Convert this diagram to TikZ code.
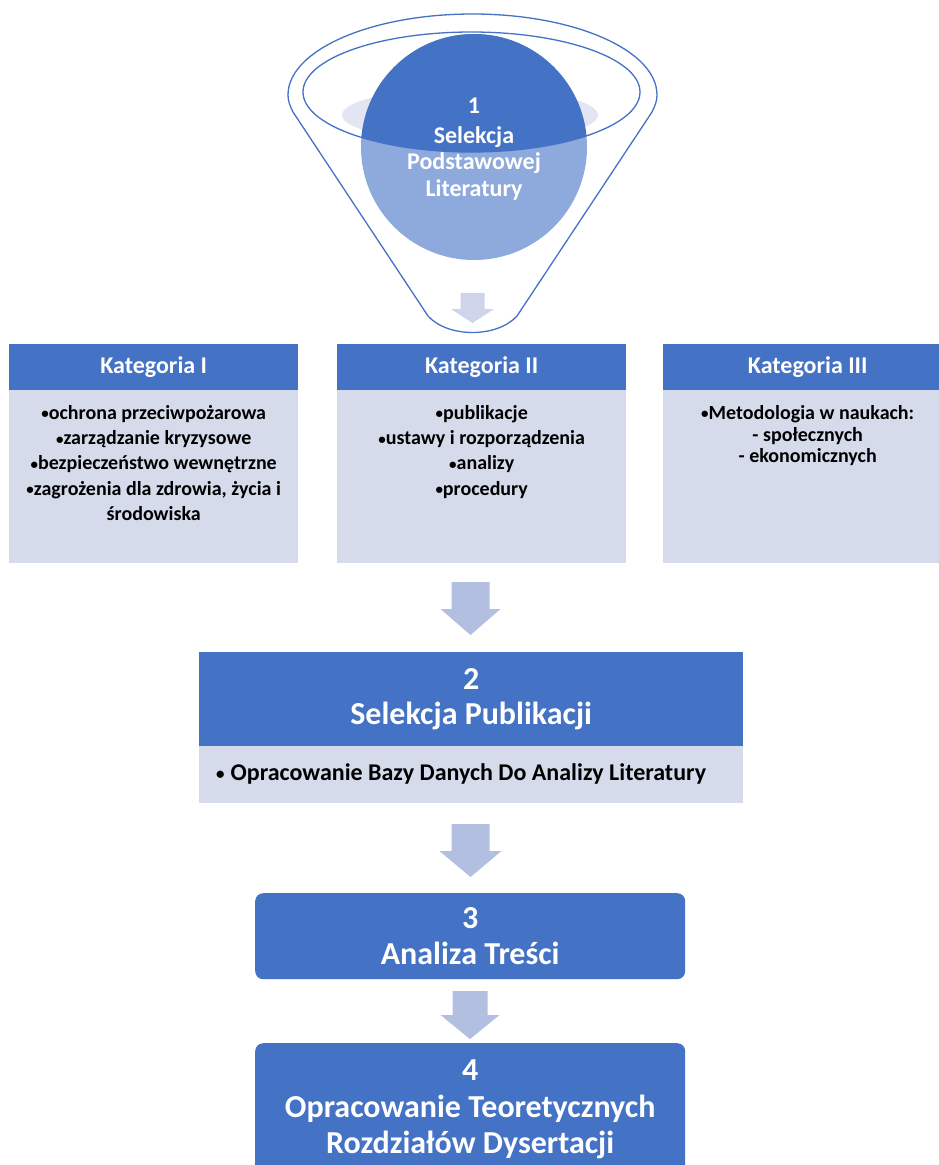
\documentclass[tikz,border=0pt]{standalone}
\usepackage{fontspec}
\setmainfont{Carlito}
\usetikzlibrary{calc}

\definecolor{accent}{HTML}{4472C4}
\definecolor{panel}{HTML}{D6DBEC}
\definecolor{arrowfill}{HTML}{B2BFE0}
\definecolor{funnelarrow}{HTML}{CED5EA}
\definecolor{haze}{HTML}{E3E6F2}
\definecolor{glass}{HTML}{8EA9DB}

\newcommand{\fsz}[2]{\fontsize{#1}{#2}\selectfont}
% small list bullet
\newcommand{\bul}{\raisebox{0.5pt}{\fsz{15}{15}•}}
% block arrow: colour, centre x, top, shoulder, tip, half head width, half shaft width
\newcommand{\blockarrow}[7]{%
  \fill[#1] (#2-#7,#3) -- (#2+#7,#3) -- (#2+#7,#4) -- (#2+#6,#4) -- (#2,#5)
            -- (#2-#6,#4) -- (#2-#7,#4) -- cycle;}

\begin{document}
\begin{tikzpicture}[x=1pt,y=-1pt,
  cathead/.style={fill=accent,text=white,font=\bfseries\fsz{24}{28},
    minimum width=289pt,minimum height=46pt,inner sep=0pt,anchor=north west},
  catbody/.style={fill=panel,minimum width=289pt,minimum height=173pt,
    inner sep=0pt,anchor=north west},
  cattext/.style={font=\bfseries\fsz{20}{25.3},align=center,anchor=north,inner sep=0pt},
  stephead/.style={fill=accent,text=white,font=\bfseries\fsz{32}{35.5},
    align=center,inner sep=0pt,anchor=north west},
  stepbody/.style={fill=panel,inner sep=0pt,anchor=north west},
  steptext/.style={font=\bfseries\fsz{24}{26},inner sep=0pt,anchor=west},
  roundstep/.style={stephead,rounded corners=8pt,font=\bfseries\fsz{32}{36.5}},
  funnelline/.style={draw=accent,line width=1.3pt}
]
\path[use as bounding box] (0,0) rectangle (939,1165);
\clip (0,0) rectangle (939,1165);
\fill[white] (0,0) rectangle (939,1165);

% ---------- funnel ----------
\fill[haze] (470,115) ellipse (128 and 27);
\fill[glass] (474,147) circle (113);
\begin{scope}
  \clip (471.5,92) ellipse (168.5 and 60);
  \fill[accent] (474,147) circle (113);
\end{scope}
\node[text=white,font=\bfseries\fsz{24}{26.5},align=center,inner sep=0pt]
  (sel) at (474,149) {1\\[3pt]Selekcja\\Podstawowej\\Literatury};
\draw[funnelline] (471.5,92) ellipse (168.5 and 60);
\draw[funnelline]
  (288,95) .. controls (288,50.3) and (370.6,14) .. (472.5,14)
  .. controls (574.4,14) and (657,50.3) .. (657,95)
  .. controls (657,101) and (655,106) .. (652,112)
  -- (517,316) .. controls (497,338) and (448,338) .. (428,316)
  -- (293,112) .. controls (290,106) and (288,101) .. (288,95) -- cycle;
\blockarrow{funnelarrow}{472.5}{293}{309}{323}{21.5}{12}

% ---------- categories ----------
\node[cathead] (k1h) at (9,344) {Kategoria I};
\node[catbody] (k1b) at (9,390) {};
\node[cattext] (k1t) at ($(k1b.north)+(0,15)$)
  {\bul ochrona przeciwpożarowa\\\bul zarządzanie kryzysowe\\\bul bezpieczeństwo wewnętrzne\\\bul zagrożenia dla zdrowia, życia i\\środowiska};

\node[cathead] (k2h) at (337,344) {Kategoria II};
\node[catbody] (k2b) at (337,390) {};
\node[cattext] (k2t) at ($(k2b.north)+(0,15)$)
  {\bul publikacje\\\bul ustawy i rozporządzenia\\\bul analizy\\\bul procedury};

\node[cathead] (k3h) at (663,344) {Kategoria III};
\node[catbody] (k3b) at (663,390) {};
\node[cattext,font=\bfseries\fsz{20}{21.8}] (k3t) at ($(k3b.north)+(0,15)$)
  {\bul Metodologia w naukach:\\- społecznych\\- ekonomicznych};

\blockarrow{arrowfill}{470.5}{582}{609}{635}{30}{19}

% ---------- step 2 ----------
\node[stephead,minimum width=544pt,minimum height=94pt] (s2h) at (199,652)
  {2\\Selekcja Publikacji};
\node[stepbody,minimum width=544pt,minimum height=57pt] (s2b) at (199,746) {};
\node[steptext] (s2t) at ($(s2b.west)+(17,-1)$)
  {\raisebox{1pt}{\fsz{17}{17}•}\hspace{6pt}Opracowanie Bazy Danych Do Analizy Literatury};

\blockarrow{arrowfill}{470.5}{824}{851}{877}{31}{19}

% ---------- step 3 ----------
\node[roundstep,minimum width=430pt,minimum height=86pt] (s3) at (255,893)
  {3\\Analiza Treści};

\blockarrow{arrowfill}{470}{991}{1015}{1039}{29.5}{17.5}

% ---------- step 4 ----------
\node[roundstep,minimum width=430pt,minimum height=133pt] (s4) at (255,1043)
  {4\\Opracowanie Teoretycznych\\Rozdziałów Dysertacji};
\end{tikzpicture}
\end{document}
